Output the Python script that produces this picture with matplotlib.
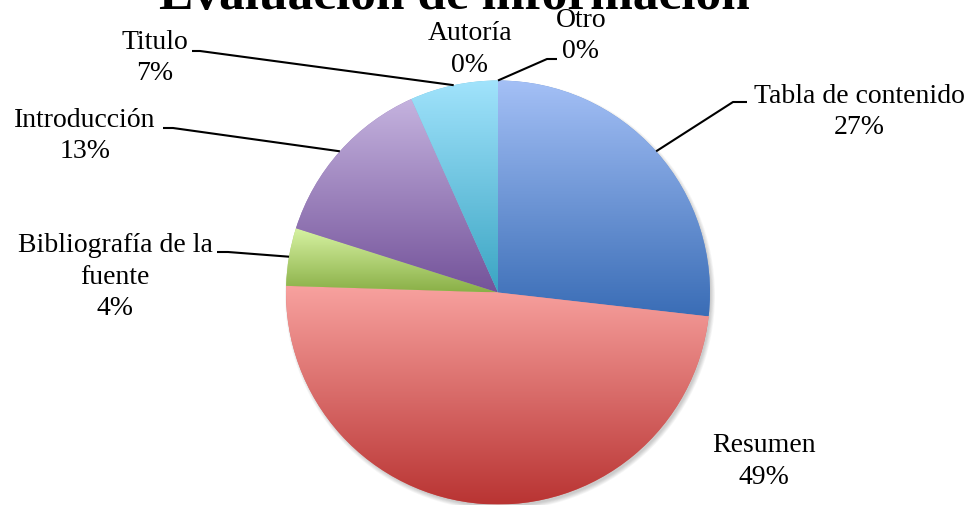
import numpy as np
import matplotlib.pyplot as plt
from matplotlib.colors import LinearSegmentedColormap
from matplotlib.patches import Circle

# data
categories = ['Tabla de contenido', 'Resumen', 'Bibliografía de la\nfuente',
              'Introducción', 'Titulo', 'Autoría', 'Otro']
values = [26.8, 48.7, 4.4, 13.4, 6.7, 0.0, 0.0]
title = 'Evaluación de información'

# gradient colours (top -> bottom of each slice)
top_colors = ['#a4c0f6', '#f8a29f', '#d8f3a4', '#c5b3df', '#a1e3fc', '#a1e3fc', '#a4c0f6']
bottom_colors = ['#3a6db6', '#b93433', '#8ab047', '#74539a', '#3ba5c3', '#3ba5c3', '#3a6db6']

W, H = 969, 505
FONT = 'Liberation Serif'

fig = plt.figure(figsize=(W / 100, H / 100), dpi=100)
ax = fig.add_axes([0, 0, 1, 1])

cx, cy, r = 498, H - 292.5, 212

# soft shadow under the pie
for k in range(6):
    ax.add_patch(Circle((cx + 2, cy - 3), r + 3 - k * 0.8, color='k', alpha=0.035, lw=0, zorder=0))

wedges, _ = ax.pie(values, startangle=90, counterclock=False, center=(cx, cy), radius=r,
                   colors=top_colors, wedgeprops=dict(linewidth=0))

grad = np.linspace(0, 1, 256).reshape(-1, 1)
for w, v, c0, c1 in zip(wedges, values, top_colors, bottom_colors):
    if v == 0:
        continue
    bb = w.get_path().get_extents()
    cmap = LinearSegmentedColormap.from_list('g', [c1, c0])
    w.set_facecolor(cmap(0.5))
    im = ax.imshow(grad, cmap=cmap, extent=[bb.x0, bb.x1, bb.y0, bb.y1], origin='lower',
                   aspect='auto', interpolation='bilinear', zorder=2)
    im.set_clip_path(w)

ax.set_xlim(0, W)
ax.set_ylim(0, H)
ax.set_aspect('equal')
ax.axis('off')

# label layout: text centre x, first baseline y (from top), elbow points of leader
layout = {
    'Tabla de contenido': (859, 103, [(747, 102), (733, 102)]),
    'Resumen': (764, 452, None),
    'Bibliografía de la\nfuente': (115, 252, [(217, 252), (228, 252)]),
    'Introducción': (85, 127, [(163, 128), (173, 128)]),
    'Titulo': (155, 49, [(192, 51), (200, 51)]),
    'Autoría': (470, 40, None),
    'Otro': (581, 27, [(557, 59), (547, 59)]),
}
line_gap = 31.5

total = sum(values)
angle = 90.0
for w, cat, v in zip(wedges, categories, values):
    mid = np.deg2rad(angle - v / total * 180)
    angle -= v / total * 360
    tx, ty, elbow = layout[cat]
    lines = cat.split('\n') + ['%d%%' % round(v)]
    for i, s in enumerate(lines):
        ax.text(tx, H - (ty + i * line_gap), s, ha='center', va='baseline',
                fontsize=20, family=FONT, color='black', zorder=5)
    if elbow:
        px, py = cx + r * np.cos(mid), cy + r * np.sin(mid)
        xs = [elbow[0][0], elbow[1][0], px]
        ys = [H - elbow[0][1], H - elbow[1][1], py]
        ax.plot(xs, ys, color='black', lw=1.5, zorder=4, solid_capstyle='butt')

ax.text(454, H - 9, title, ha='center', va='baseline', fontsize=37, fontweight='bold',
        family=FONT, color='black', zorder=5)

fig.savefig('out.png', dpi=100)
